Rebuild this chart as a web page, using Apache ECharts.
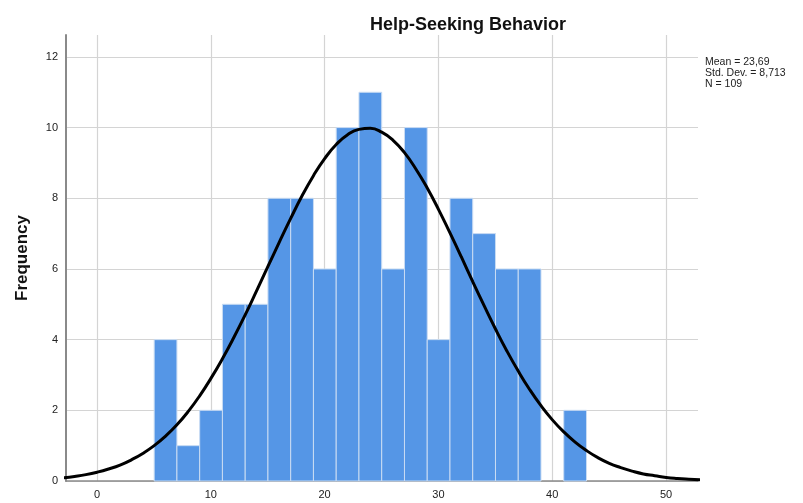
<!DOCTYPE html>
<html>
<head>
<meta charset="utf-8">
<script src="https://cdn.jsdelivr.net/npm/echarts@6/dist/echarts.min.js"></script>
<style>
  html, body { margin: 0; padding: 0; background: #fff; }
  #main { width: 803px; height: 503px; }
</style>
</head>
<body>
<div id="main"></div>
<script>
// histogram bins (left edge, right edge) and counts
var binStart = [5, 7, 9, 11, 13, 15, 17, 19, 21, 23, 25, 27, 29, 31, 33, 35, 37, 39, 41];
var binEnd   = [7, 9, 11, 13, 15, 17, 19, 21, 23, 25, 27, 29, 31, 33, 35, 37, 39, 41, 43];
var counts   = [4, 1, 2, 5, 5, 8, 8, 6, 10, 11, 6, 10, 4, 8, 7, 6, 6, 0, 2];

// normal curve as drawn (x, frequency)
var curveX = [-3, -2, -1, 0, 1, 2, 3, 4, 5, 6, 7, 8, 9, 10, 11, 12, 13, 14, 15, 16, 17, 18, 19,
  20, 21, 22, 23, 24, 25, 26, 27, 28, 29, 30, 31, 32, 33, 34, 35, 36, 37, 38, 39, 40, 41, 42,
  43, 44, 45, 46, 47, 48, 49, 50, 51, 52, 53];
var curveY = [0.09, 0.13, 0.18, 0.25, 0.34, 0.45, 0.60, 0.78, 1.00, 1.27, 1.59, 1.97, 2.41,
  2.91, 3.46, 4.06, 4.70, 5.38, 6.07, 6.76, 7.43, 8.07, 8.64, 9.13, 9.52, 9.80, 9.95, 9.98,
  9.87, 9.64, 9.29, 8.83, 8.29, 7.68, 7.02, 6.34, 5.64, 4.96, 4.30, 3.68, 3.11, 2.59, 2.13,
  1.73, 1.39, 1.10, 0.86, 0.66, 0.50, 0.38, 0.28, 0.20, 0.15, 0.10, 0.07, 0.05, 0.035];

var statsLines = ['Mean = 23,69', 'Std. Dev. = 8,713', 'N = 109'];

var barData = [];
for (var i = 0; i < counts.length; i++) {
    barData.push([binStart[i], binEnd[i], counts[i]]);
}
var lineData = [];
for (var j = 0; j < curveX.length; j++) {
    lineData.push([curveX[j], curveY[j]]);
}

var myChart = echarts.init(document.getElementById('main'));
var option = {
    animation: false,
    backgroundColor: '#ffffff',
    textStyle: { fontFamily: 'Liberation Sans, Arial, sans-serif' },
    title: {
        text: 'Help-Seeking Behavior',
        left: 463,
        top: 11,
        textAlign: 'center',
        textStyle: { fontSize: 18, fontWeight: 'bold', color: '#111' }
    },
    graphic: [{
        type: 'text',
        left: 705,
        top: 57,
        style: {
            text: statsLines.join('\n'),
            fontSize: 10.5,
            lineHeight: 11,
            fill: '#222',
            fontFamily: 'Liberation Sans, Arial, sans-serif'
        }
    }],
    grid: [
        // plot area
        { left: 66, right: 105, top: 35, bottom: 22 },
        // tick grid: spans 0..50 so ticks start at 0
        { left: 97, right: 137, top: 35, bottom: 22 }
    ],
    xAxis: [
        {
            gridIndex: 0,
            type: 'value',
            min: -2.75,
            max: 52.8,
            axisLine: { show: true, onZero: false, lineStyle: { color: '#8a8a8a', width: 1.5 } },
            axisTick: { show: false },
            axisLabel: { show: false },
            splitLine: { show: false }
        },
        {
            gridIndex: 1,
            type: 'value',
            min: 0,
            max: 50,
            interval: 10,
            axisLine: { show: false },
            axisTick: { show: false },
            axisLabel: { color: '#222', fontSize: 11, margin: 8 },
            splitLine: { show: true, lineStyle: { color: '#d4d4d4', width: 1.2 } }
        }
    ],
    yAxis: [
        {
            gridIndex: 0,
            type: 'value',
            min: 0,
            max: 12.62,
            interval: 2,
            name: 'Frequency',
            nameLocation: 'middle',
            nameGap: 35,
            nameTextStyle: { fontSize: 17, fontWeight: 'bold', color: '#111' },
            axisLine: { show: true, onZero: false, lineStyle: { color: '#8a8a8a', width: 2 } },
            axisTick: { show: false },
            axisLabel: { showMaxLabel: false, color: '#222', fontSize: 11, margin: 8 },
            splitLine: { show: true, showMaxLine: false, lineStyle: { color: '#d4d4d4', width: 1.2 } }
        },
        {
            gridIndex: 1,
            type: 'value',
            min: 0,
            max: 12.62,
            show: false
        }
    ],
    series: [
        {
            type: 'custom',
            xAxisIndex: 0,
            yAxisIndex: 0,
            data: barData,
            encode: { x: [0, 1], y: 2 },
            renderItem: function (params, api) {
                if (api.value(2) <= 0) {
                    return null;
                }
                var p0 = api.coord([api.value(0), api.value(2)]);
                var p1 = api.coord([api.value(1), 0]);
                return {
                    type: 'rect',
                    shape: { x: p0[0], y: p0[1], width: p1[0] - p0[0], height: p1[1] - p0[1] },
                    style: { fill: '#5596e6', stroke: '#c9dcf3', lineWidth: 1 }
                };
            },
            z: 2
        },
        {
            type: 'line',
            xAxisIndex: 0,
            yAxisIndex: 0,
            data: lineData,
            smooth: true,
            showSymbol: false,
            lineStyle: { color: '#000', width: 3 },
            z: 3
        }
    ]
};
myChart.setOption(option);
</script>
</body>
</html>
